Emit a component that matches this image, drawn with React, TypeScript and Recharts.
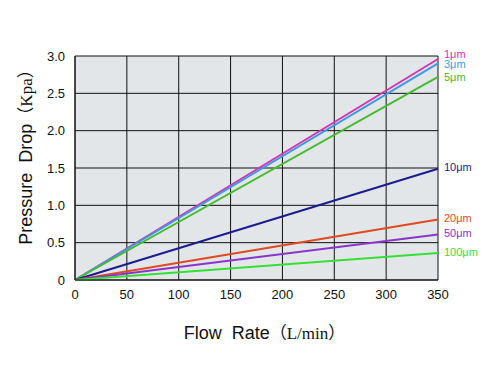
import React from "react";
import {
  LineChart,
  Line,
  XAxis,
  YAxis,
  CartesianGrid,
  Label,
} from "recharts";

// flow rate (L/min) at the two ends of each straight curve
const flowRates = [0, 350];
const xTicks = [0, 50, 100, 150, 200, 250, 300, 350];
const yTicks = [0, 0.5, 1.0, 1.5, 2.0, 2.5, 3.0];

const filterNames = ["1μm", "3μm", "5μm", "10μm", "20μm", "50μm", "100μm"];
// pressure drop (Kpa) at 0 and 350 L/min
const drop1 = [0, 2.96];
const drop3 = [0, 2.9];
const drop5 = [0, 2.72];
const drop10 = [0, 1.49];
const drop20 = [0, 0.81];
const drop50 = [0, 0.61];
const drop100 = [0, 0.36];

const colors = ["#d435b0", "#3c9be0", "#45bb2e", "#1c1c8e", "#e04a22", "#8a35cc", "#35e035"];
const labelShift = [-5, 1, 0, -2, -1, -1, -1];

const seriesValues = [drop1, drop3, drop5, drop10, drop20, drop50, drop100];

const data = flowRates.map((f, i) => {
  const row: Record<string, number> = { flow: f };
  filterNames.forEach((name, s) => {
    row[name] = seriesValues[s][i];
  });
  return row;
});

const sans = "'Liberation Sans', Arial, sans-serif";

function endLabel(index: number) {
  return (props: any) => {
    const { x, y, index: i } = props;
    if (i !== data.length - 1) return null;
    return (
      <text
        x={x + 6}
        y={y + labelShift[index]}
        dy="0.35em"
        fill={colors[index]}
        fontSize={11}
        fontFamily={sans}
      >
        {filterNames[index]}
      </text>
    );
  };
}

export default function App() {
  return (
    <div style={{ position: "absolute", left: 0, top: 0, background: "#fff" }}>
      <LineChart
        width={497}
        height={373}
        data={data}
        margin={{ top: 56, right: 59, bottom: 63, left: 25 }}
      >
        <CartesianGrid stroke="#111" strokeWidth={1} fill="#e3e6e9" fillOpacity={1} />
        <XAxis
          dataKey="flow"
          type="number"
          domain={[0, 350]}
          ticks={xTicks}
          height={30}
          tickLine={false}
          axisLine={{ stroke: "#111" }}
          tickMargin={4}
          tick={{ fill: "#111", fontSize: 13, fontFamily: sans }}
        >
          <Label
            content={(props: any) => {
              const vb = props.viewBox;
              const cx = vb.x + vb.width / 2 + 8;
              return (
                <text x={cx} y={339} textAnchor="middle" fill="#111" fontSize={18}>
                  <tspan fontFamily={sans} style={{ wordSpacing: 5 }}>Flow Rate</tspan>
                  <tspan fontFamily="'Liberation Serif', 'Noto Sans CJK SC', serif" fontSize={17}>（L/min）</tspan>
                </text>
              );
            }}
          />
        </XAxis>
        <YAxis
          type="number"
          domain={[0, 3]}
          ticks={yTicks}
          width={50}
          tickLine={false}
          axisLine={{ stroke: "#111" }}
          tickMargin={4}
          tickFormatter={(v: number) => (v === 0 ? "0" : v.toFixed(1))}
          tick={{ fill: "#111", fontSize: 13, fontFamily: sans }}
        >
          <Label
            content={(props: any) => {
              const vb = props.viewBox;
              const cy = vb.y + vb.height / 2 - 15;
              return (
                <text
                  x={32}
                  y={cy}
                  textAnchor="middle"
                  fill="#111"
                  fontSize={18}
                  transform={`rotate(-90, 32, ${cy})`}
                >
                  <tspan fontFamily={sans} style={{ wordSpacing: 5 }}>Pressure Drop</tspan>
                  <tspan fontFamily="'Liberation Serif', 'Noto Sans CJK SC', serif" fontSize={17}>（Kpa）</tspan>
                </text>
              );
            }}
          />
        </YAxis>
        {filterNames.map((name, i) => (
          <Line
            key={name}
            type="linear"
            dataKey={name}
            stroke={colors[i]}
            strokeWidth={2}
            dot={false}
            activeDot={false}
            isAnimationActive={false}
            label={endLabel(i)}
          />
        ))}
      </LineChart>
    </div>
  );
}
